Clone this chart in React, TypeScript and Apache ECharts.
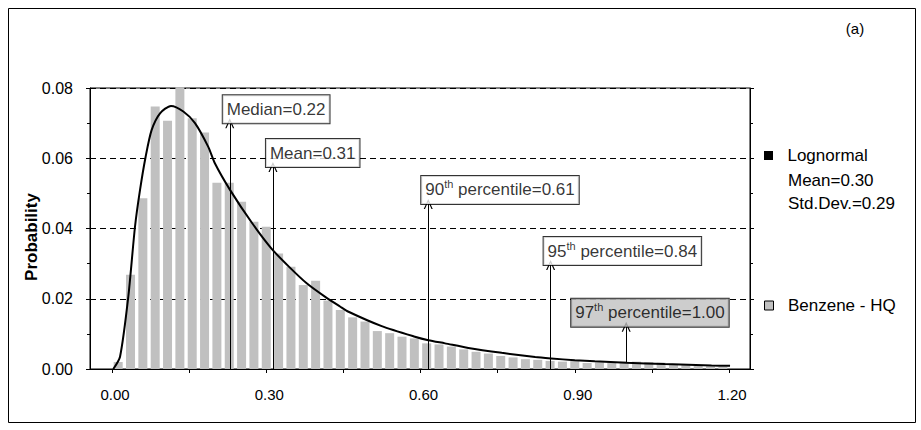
import React, { useEffect, useRef } from "react";
import * as echarts from "echarts";

// ---------- data ----------
const binCenters = [
  0.012, 0.036, 0.06, 0.084, 0.108, 0.132, 0.156, 0.18, 0.204, 0.228,
  0.252, 0.276, 0.3, 0.324, 0.348, 0.372, 0.396, 0.42, 0.444, 0.468,
  0.492, 0.516, 0.54, 0.564, 0.588, 0.612, 0.636, 0.66, 0.684, 0.708,
  0.732, 0.756, 0.78, 0.804, 0.828, 0.852, 0.876, 0.9, 0.924, 0.948,
  0.972, 0.996, 1.02, 1.044, 1.068, 1.092, 1.116, 1.14, 1.164, 1.188,
];
const benzeneHQ = [
  0.002, 0.0268, 0.0486, 0.0747, 0.0707, 0.0802, 0.0714, 0.0673, 0.053, 0.053,
  0.0476, 0.0419, 0.0405, 0.0329, 0.0291, 0.0239, 0.0251, 0.0195, 0.0168, 0.0147,
  0.0135, 0.0108, 0.0102, 0.0092, 0.0087, 0.0073, 0.007, 0.0064, 0.0056, 0.0049,
  0.0044, 0.0037, 0.0033, 0.0028, 0.0026, 0.0023, 0.0021, 0.0026, 0.0017, 0.0019,
  0.0018, 0.0021, 0.0021, 0.002, 0.0018, 0.0012, 0.0011, 0.001, 0.0008, 0.0006,
];
const lognormalX = [
  0.0025, 0.0156, 0.0317, 0.0447, 0.0545, 0.0655, 0.077, 0.0934, 0.1147, 0.1387,
  0.1614, 0.187, 0.2003, 0.2295, 0.2717, 0.3106, 0.345, 0.3786, 0.414, 0.4434,
  0.46, 0.5245, 0.589, 0.6152, 0.6476, 0.693, 0.758, 0.823, 0.854, 0.9,
  0.939, 1.0, 1.075, 1.166, 1.202,
];
const lognormalY = [
  0, 0.0035, 0.0206, 0.0405, 0.051, 0.0605, 0.068, 0.0728, 0.0749, 0.0733,
  0.07, 0.0633, 0.0585, 0.051, 0.0417, 0.0342, 0.029, 0.0244, 0.0206, 0.0178,
  0.0163, 0.0122, 0.0092, 0.0082, 0.0073, 0.006, 0.0046, 0.0034, 0.003, 0.0025,
  0.0022, 0.0018, 0.0014, 0.001, 0.0009,
];
const annotationX = [0.229, 0.313, 0.615, 0.853, 1.0];
const arrowBaseY = [0, 0, 0, 0, 0.0018];
const boxBottomY = [0.07, 0.0575, 0.047, 0.0296, 0.012];
const annotationText = [
  "{n|Median=0.22}",
  "{n|Mean=0.31}",
  "{n|90}{s|th}{n| percentile=0.61}",
  "{n|95}{s|th}{n| percentile=0.84}",
  "{n|97}{s|th}{n| percentile=1.00}",
];
const legendNotes = ["Mean=0.30", "Std.Dev.=0.29"];
const yTickValues = { min: 0, max: 0.08, step: 0.02 };
const xTickValues = { min: 0, max: 1.2, step: 0.15 };

// ---------- layout / style ----------
const FONT = "'Liberation Sans', Arial, Helvetica, sans-serif";
const BAR_GRAY = "#c0c0c0";
const boxShift = [-7, -7, -7, -7, -55];
const boxFill = ["#fff", "#fff", "#fff", "#fff", BAR_GRAY];
const OPEN_ARROW = "path://M5,0 L10,10 L8.6,10 L5,2.8 L1.4,10 L0,10 Z";

export default function App() {
  const ref = useRef<HTMLDivElement>(null);
  useEffect(() => {
    const chart = echarts.init(ref.current!, null, { renderer: "svg" });
    const option: any = {
      animation: false,
      backgroundColor: "#fff",
      textStyle: { fontFamily: FONT, color: "#000" },
      grid: [
        { left: 90, right: 171, top: 88, bottom: 61, show: true, borderColor: "#000", borderWidth: 1 },
        { left: 112, right: 192, top: 88, bottom: 61 },
      ],
      xAxis: [
        {
          gridIndex: 0, type: "value", min: -0.0428, max: 1.2408,
          axisLine: { show: true, onZero: false, lineStyle: { color: "#000" } },
          axisTick: { show: false }, axisLabel: { show: false }, splitLine: { show: false },
        },
        {
          gridIndex: 1, type: "value", min: xTickValues.min, max: xTickValues.max, interval: xTickValues.step,
          axisLine: { show: false, onZero: false },
          axisTick: { show: true, length: 4, lineStyle: { color: "#000" } },
          splitLine: { show: false },
          axisLabel: {
            margin: 18, fontSize: 15, color: "#000", fontFamily: FONT, padding: [0, 0, 0, 6],
            formatter: (v: number) => (Math.round(v / xTickValues.step) % 2 === 0 ? v.toFixed(2) : ""),
          },
        },
      ],
      yAxis: [
        {
          gridIndex: 0, type: "value", min: yTickValues.min, max: yTickValues.max, interval: yTickValues.step,
          axisLine: { show: true, onZero: false, lineStyle: { color: "#000" } },
          axisTick: { show: true, length: 4, lineStyle: { color: "#000" } },
          minorTick: { show: true, splitNumber: 2, length: 3, lineStyle: { color: "#000" } },
          splitLine: { show: true, lineStyle: { color: "#000", type: [6, 4], width: 1 } },
          axisLabel: { margin: 17, fontSize: 16, color: "#000", fontFamily: FONT, formatter: (v: number) => v.toFixed(2) },
        },
        {
          gridIndex: 1, type: "value", min: yTickValues.min, max: yTickValues.max, show: false,
          axisLine: { show: false, onZero: false },
        },
        {
          gridIndex: 0, type: "value", position: "right", min: yTickValues.min, max: yTickValues.max, interval: yTickValues.step,
          axisLine: { show: true, onZero: false, lineStyle: { color: "#000" } },
          axisTick: { show: true, length: 4, lineStyle: { color: "#000" } },
          minorTick: { show: true, splitNumber: 2, length: 3, lineStyle: { color: "#000" } },
          splitLine: { show: false }, axisLabel: { show: false },
        },
      ],
      legend: [
        {
          data: [{ name: "Lognormal", icon: "rect", itemStyle: { color: "#000", borderWidth: 0 } }],
          left: 764, top: 147, padding: 0, itemWidth: 9, itemHeight: 9,
          formatter: (n: string) => "  " + n,
          textStyle: { fontSize: 17, color: "#000", fontFamily: FONT },
        },
        {
          data: [{ name: "Benzene - HQ", icon: "rect", itemStyle: { color: BAR_GRAY, borderColor: "#000", borderWidth: 1 } }],
          left: 764, top: 297, padding: 0, itemWidth: 9, itemHeight: 9,
          formatter: (n: string) => "  " + n,
          textStyle: { fontSize: 17, color: "#000", fontFamily: FONT },
        },
      ],
      series: [
        {
          name: "Benzene - HQ", type: "bar", xAxisIndex: 0, yAxisIndex: 0,
          data: binCenters.map((c, i) => [c, benzeneHQ[i]]),
          barWidth: 9, itemStyle: { color: BAR_GRAY }, clip: false, z: 2,
        },
        {
          name: "Lognormal", type: "line", xAxisIndex: 0, yAxisIndex: 0,
          data: lognormalX.map((x, i) => [x, lognormalY[i]]),
          showSymbol: false, smooth: 0.25,
          lineStyle: { color: "#000", width: 2 }, itemStyle: { color: "#000" }, z: 3,
          markLine: {
            silent: true, symbol: ["none", OPEN_ARROW], symbolSize: [9, 10],
            label: { show: false },
            lineStyle: { color: "#000", width: 1, type: "solid" },
            data: annotationX.map((x, i) => [
              { coord: [x, arrowBaseY[i]] },
              { coord: [x, boxBottomY[i]] },
            ]),
          },
        },
        {
          name: "annotations", type: "scatter", xAxisIndex: 0, yAxisIndex: 0,
          symbolSize: 0, z: 10, silent: true,
          data: annotationX.map((x, i) => ({
            value: [x, boxBottomY[i]],
            label: {
              show: true, position: [boxShift[i], 0], align: "left", verticalAlign: "bottom",
              formatter: annotationText[i],
              backgroundColor: boxFill[i], borderColor: "#000", borderWidth: 1,
              padding: [3, 4, 3, 4],
              rich: {
                n: { fontSize: 17, lineHeight: 22, color: "#000", fontFamily: FONT },
                s: { fontSize: 11, lineHeight: 22, verticalAlign: "top", color: "#000", fontFamily: FONT },
              },
            },
          })),
        },
      ],
      graphic: [
        { type: "rect", shape: { x: 8.5, y: 8.5, width: 907, height: 414 }, style: { fill: "none", stroke: "#000", lineWidth: 1 }, silent: true },
        { type: "text", x: 855, y: 28, style: { text: "(a)", font: `15px ${FONT}`, fill: "#000", align: "center", verticalAlign: "middle" } },
        { type: "text", x: 31, y: 237, rotation: Math.PI / 2, style: { text: "Probability", font: `bold 17px ${FONT}`, fill: "#000", align: "center", verticalAlign: "middle" } },
        ...legendNotes.map((t, i) => ({
          type: "text", x: 788, y: 180 + i * 23,
          style: { text: t, font: `17px ${FONT}`, fill: "#000", align: "left", verticalAlign: "middle" },
        })),
      ],
    };
    chart.setOption(option);
    return () => chart.dispose();
  }, []);
  return (
    <div
      ref={ref}
      style={{ position: "fixed", left: 0, top: 0, width: 921, height: 430, background: "#fff" }}
    />
  );
}
